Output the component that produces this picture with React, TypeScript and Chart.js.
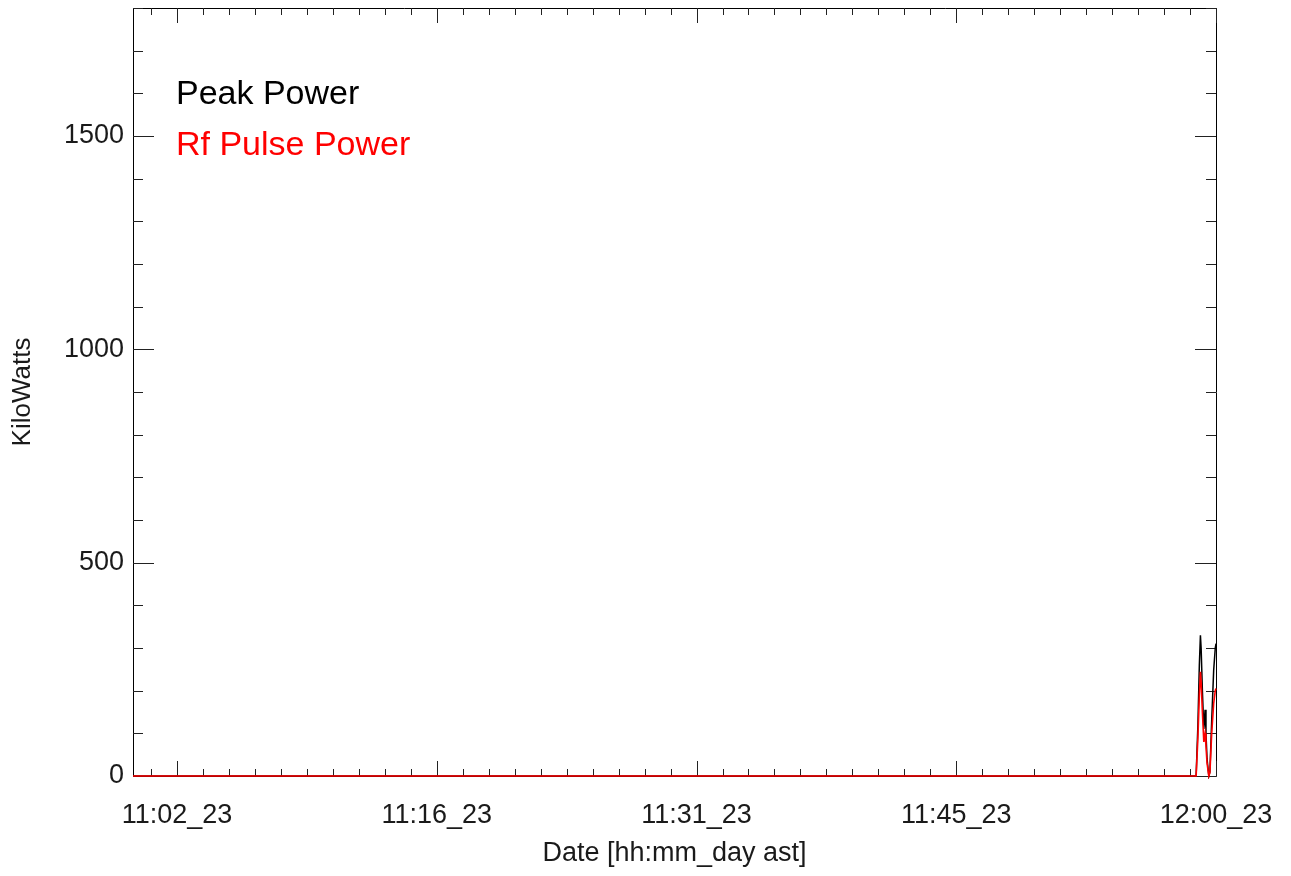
import React, { useEffect, useRef } from "react";
import { Chart, registerables } from "chart.js";

Chart.register(...registerables);

// time axis in minutes from the left edge of the plot
const xMin = 0;
const xMax = 60.46;
const xTickValues = [2.46, 16.96, 31.46, 45.96, 60.46];
const xTickLabels = ["11:02_23", "11:16_23", "11:31_23", "11:45_23", "12:00_23"];
const xMinorStep = 1.45;

const yMin = 0;
const yMax = 1800;
const yTickValues = [0, 500, 1000, 1500];
const yMinorStep = 100;

const times = [0, 59.35, 59.45, 59.53, 59.59, 59.63, 59.7, 59.78, 59.85, 59.9, 59.96, 60.06, 60.12, 60.22, 60.33, 60.42, 60.46];
const peakPower = [0, 0, 120, 260, 330, 300, 200, 110, 155, 100, 40, 0, 10, 130, 248, 300, 310];
const rfPulsePower = [0, 0, 90, 190, 244, 220, 150, 80, 100, 70, 30, 0, 8, 100, 170, 200, 205];

const FONT = "'Liberation Sans', Arial, Helvetica, sans-serif";
const TEXT = "#1a1a1a";

const framePlugin = {
  id: "idlFrame",
  beforeDatasetsDraw(chart: any) {
    const { ctx, chartArea } = chart;
    const xs = chart.scales.x;
    const ys = chart.scales.y;
    const { left, right, top, bottom } = chartArea;
    ctx.save();
    ctx.strokeStyle = "#000";
    ctx.lineWidth = 1;
    ctx.beginPath();
    ctx.rect(Math.round(left) + 0.5, Math.round(top) + 0.5, Math.round(right - left), Math.round(bottom - top));
    ctx.stroke();

    ctx.strokeStyle = "#222";
    ctx.beginPath();
    // x ticks (bottom and top)
    const startMinor = xTickValues[0] - Math.floor((xTickValues[0] - xMin) / xMinorStep) * xMinorStep;
    for (let v = startMinor; v <= xMax + 1e-6; v += xMinorStep) {
      const isMajor = xTickValues.some((t) => Math.abs(t - v) < 1e-3);
      const len = isMajor ? 15 : 7;
      const px = Math.round(xs.getPixelForValue(v)) + 0.5;
      ctx.moveTo(px, bottom);
      ctx.lineTo(px, bottom - len);
      ctx.moveTo(px, top);
      ctx.lineTo(px, top + len);
    }
    // y ticks (left and right)
    for (let v = yMin; v <= yMax + 1e-6; v += yMinorStep) {
      const isMajor = yTickValues.includes(v);
      const len = isMajor ? 21 : 10;
      const py = Math.round(ys.getPixelForValue(v)) + 0.5;
      ctx.moveTo(left, py);
      ctx.lineTo(left + len, py);
      ctx.moveTo(right, py);
      ctx.lineTo(right - len, py);
    }
    ctx.stroke();
    ctx.restore();
  },
  afterDatasetsDraw(chart: any) {
    const { ctx, chartArea } = chart;
    const { left, top } = chartArea;
    ctx.save();
    ctx.font = `34px ${FONT}`;
    ctx.textAlign = "left";
    ctx.textBaseline = "alphabetic";
    const items = [chart.data.datasets[1], chart.data.datasets[0]];
    items.forEach((ds: any, i: number) => {
      ctx.fillStyle = ds.borderColor;
      ctx.fillText(ds.label, left + 43, top + 96 + i * 51);
    });
    ctx.restore();
  },
};

export default function App() {
  const ref = useRef<HTMLCanvasElement | null>(null);
  useEffect(() => {
    if (!ref.current) return;
    const chart = new Chart(ref.current, {
      type: "line",
      data: {
        datasets: [
          {
            label: "Rf Pulse Power",
            data: times.map((t, i) => ({ x: t, y: rfPulsePower[i] })),
            borderColor: "#ff0000",
            borderWidth: 1.6,
            pointRadius: 0,
            tension: 0,
            clip: 3,
            order: 0,
          },
          {
            label: "Peak Power",
            data: times.map((t, i) => ({ x: t, y: peakPower[i] })),
            borderColor: "#000000",
            borderWidth: 1.5,
            pointRadius: 0,
            tension: 0,
            clip: 3,
            order: 1,
          },
        ],
      },
      options: {
        animation: false,
        responsive: true,
        maintainAspectRatio: false,
        layout: { padding: { top: 8, right: 75, left: 0, bottom: 0 } },
        plugins: { legend: { display: false }, tooltip: { enabled: false } },
        scales: {
          x: {
            type: "linear",
            min: xMin,
            max: xMax,
            grid: { display: false, drawTicks: false },
            border: { display: false },
            afterBuildTicks: (s: any) => {
              s.ticks = xTickValues.map((v) => ({ value: v }));
            },
            afterFit: (s: any) => {
              s.height = 100;
              s.paddingLeft = 0;
              s.paddingRight = 0;
            },
            ticks: {
              autoSkip: false,
              maxRotation: 0,
              minRotation: 0,
              padding: 23,
              color: TEXT,
              font: { family: FONT, size: 27 },
              callback: (v: any) => {
                const i = xTickValues.findIndex((t) => Math.abs(t - Number(v)) < 1e-3);
                return i >= 0 ? xTickLabels[i] : "";
              },
            },
            title: {
              display: true,
              text: "Date [hh:mm_day ast]",
              color: TEXT,
              font: { family: FONT, size: 27 },
              padding: { top: 0, bottom: 6 },
            },
          },
          y: {
            type: "linear",
            min: yMin,
            max: yMax,
            grid: { display: false, drawTicks: false },
            border: { display: false },
            afterBuildTicks: (s: any) => {
              s.ticks = yTickValues.map((v) => ({ value: v }));
            },
            afterFit: (s: any) => {
              s.width = 133;
              s.paddingTop = 0;
              s.paddingBottom = 0;
            },
            ticks: {
              padding: 9,
              color: TEXT,
              font: { family: FONT, size: 27 },
              callback: (v: any) => String(v),
            },
            title: {
              display: true,
              text: "KiloWatts",
              color: TEXT,
              font: { family: FONT, size: 26 },
              padding: { top: 7, bottom: 0 },
            },
          },
        },
      },
      plugins: [framePlugin],
    } as any);
    return () => chart.destroy();
  }, []);
  return (
    <div style={{ position: "absolute", left: 0, top: 0, width: 1291, height: 876, background: "#fff" }}>
      <canvas ref={ref} />
    </div>
  );
}
